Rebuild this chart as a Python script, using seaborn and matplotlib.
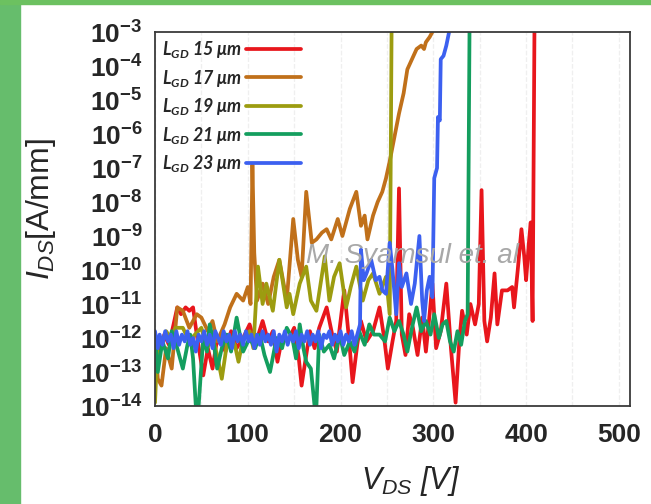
import numpy as np
import pandas as pd
import matplotlib
matplotlib.use("Agg")
import matplotlib.pyplot as plt
from matplotlib.patches import Rectangle
import seaborn as sns

# Breakdown curves: V_DS [V] and log10(I_DS [A/mm])
v_15 = [0, 5, 10, 15, 20, 24, 28, 33, 37, 41, 45, 52, 57, 62, 66, 70, 76, 82, 88, 95,
        102, 108, 116, 122, 127, 132, 137, 143, 150, 155, 158, 163, 167, 172, 177, 185,
        191, 196, 204, 209, 213, 218, 222, 228, 235, 242, 247, 251, 256, 260, 263, 266,
        270, 274, 278, 283, 288, 292, 296, 299, 303, 308, 314, 319, 324, 328, 331, 336,
        340, 345, 349, 352, 355, 358, 362, 366, 369, 374, 380, 385, 387, 391, 395, 398,
        400, 403, 405, 407, 409]
log_15 = [-12.0, -12.4, -11.9, -12.2, -11.6, -11.1, -11.3, -11.1, -11.2, -11.1, -11.9, -13.1,
          -12.3, -12.9, -12.2, -12.0, -12.4, -11.8, -12.3, -12.0, -11.6, -12.2, -11.5, -12.1,
          -11.8, -12.7, -12.0, -12.1, -11.7, -12.6, -13.4, -12.5, -11.8, -12.3, -11.7, -11.1,
          -11.9, -12.4, -10.6, -12.0, -13.3, -12.2, -11.5, -12.1, -11.8, -11.1, -12.0, -12.9,
          -12.1, -11.5, -7.6, -11.9, -12.5, -11.3, -11.7, -12.5, -11.4, -12.4, -11.3, -10.4,
          -12.3, -11.8, -10.4, -12.3, -13.9, -12.1, -11.2, -11.9, -11.0, -11.6, -11.0, -7.65,
          -11.5, -12.1, -11.4, -10.1, -11.6, -10.6, -10.6, -10.5, -11.1, -10.0, -8.8, -9.6,
          -10.3, -9.2, -8.6, -11.5, -3.0]

v_17 = [0, 3, 7, 12, 18, 24, 30, 37, 45, 50, 57, 62, 67, 75, 81, 88, 95, 100, 103, 105,
        107, 110, 116, 122, 128, 134, 142, 149, 154, 158, 163, 169, 174, 180, 185, 190, 197,
        202, 210, 217, 222, 226, 229, 235, 240, 245, 249, 253, 258, 263, 268, 272, 277, 282,
        287, 290, 292, 296, 299]
log_17 = [-12.06, -13.2, -13.4, -12.3, -12.9, -11.1, -11.2, -11.7, -11.3, -11.4, -11.8, -11.5,
          -12.1, -11.6, -11.1, -10.7, -10.9, -10.5, -11.0, -6.9, -9.5, -10.9, -10.4, -11.0,
          -10.2, -9.7, -10.9, -8.5, -9.7, -10.2, -7.7, -9.2, -9.1, -8.9, -8.8, -9.1, -8.5,
          -9.0, -8.2, -7.7, -8.7, -8.4, -9.1, -8.4, -8.0, -7.7, -7.3, -6.8, -6.1, -5.4, -4.8,
          -4.1, -3.8, -3.5, -3.4, -3.5, -3.3, -3.15, -3.0]

v_19 = [0, 3, 8, 12, 17, 22, 30, 37, 43, 50, 56, 62, 67, 72, 79, 86, 90, 95, 102, 106,
        111, 116, 120, 127, 134, 142, 145, 149, 156, 163, 168, 174, 183, 188, 193, 199, 206,
        211, 217, 224, 230, 235, 242, 249, 253, 255]
log_19 = [-13.9, -12.0, -12.1, -11.8, -12.0, -11.7, -11.7, -12.1, -11.9, -11.7, -12.3, -12.0,
          -12.5, -13.2, -11.9, -12.2, -12.7, -12.0, -11.8, -12.3, -9.9, -11.0, -10.4, -11.2,
          -9.7, -11.1, -10.7, -11.3, -10.4, -9.9, -10.9, -11.2, -9.6, -10.9, -10.2, -9.8,
          -11.1, -10.5, -9.9, -10.9, -10.3, -10.1, -10.7, -10.2, -11.3, -3.0]

v_21 = [0, 3, 8, 14, 18, 23, 30, 35, 38, 41, 44, 47, 52, 56, 59, 63, 67, 72, 77, 82, 88,
        95, 102, 108, 113, 118, 124, 131, 137, 142, 148, 152, 156, 160, 163, 168, 172, 174,
        177, 182, 188, 193, 199, 204, 210, 215, 220, 226, 231, 236, 242, 248, 253, 258, 263,
        268, 272, 277, 282, 287, 292, 297, 301, 306, 310, 314, 318, 322, 326, 330, 334, 337,
        339]
log_21 = [-11.9, -13.0, -12.1, -12.6, -11.8, -12.2, -12.9, -12.2, -11.9, -12.6, -14.0, -14.0,
          -12.0, -12.4, -11.6, -12.1, -12.9, -12.3, -11.9, -12.4, -11.4, -12.4, -12.0, -12.3,
          -11.9, -12.5, -13.0, -12.0, -12.3, -11.7, -12.0, -12.6, -11.6, -12.3, -12.7, -12.9,
          -14.0, -14.0, -11.9, -12.4, -12.2, -12.6, -11.9, -12.5, -12.1, -12.4, -11.8, -12.2,
          -11.6, -11.9, -11.9, -12.1, -11.4, -11.8, -11.5, -11.9, -12.4, -11.7, -11.1, -11.8,
          -11.5, -11.9, -11.3, -12.0, -11.6, -11.5, -12.1, -12.4, -11.8, -12.2, -11.5, -11.3,
          -3.0]

v_23 = [0, 3, 5, 8, 11, 14, 17, 20, 23, 26, 29, 32, 35, 38, 41, 44, 47, 50, 53, 56, 59,
        62, 65, 68, 71, 74, 77, 80, 83, 86, 89, 92, 95, 98, 101, 104, 107, 110, 113, 116,
        119, 122, 125, 128, 131, 134, 137, 140, 143, 146, 149, 152, 155, 158, 161, 164, 167,
        170, 173, 176, 179, 182, 185, 188, 191, 194, 197, 200, 203, 206, 209, 212, 215, 218,
        221, 222, 225, 228, 233, 238, 242, 245, 249, 253, 256, 260, 263, 266, 271, 276, 280,
        285, 288, 290, 293, 296, 299, 301, 304, 305, 307, 308, 311, 314, 317]
log_23 = [-11.8, -12.3, -11.9, -12.2, -11.8, -12.1, -11.9, -12.3, -11.8, -12.2, -11.9, -12.1,
          -11.8, -12.2, -12.0, -12.4, -11.9, -12.1, -11.8, -12.2, -11.9, -12.3, -11.8, -12.0,
          -12.2, -11.8, -12.1, -11.9, -12.3, -11.8, -12.1, -11.9, -12.2, -11.8, -12.1, -11.9,
          -12.3, -11.9, -12.2, -11.8, -12.1, -11.9, -12.2, -11.8, -12.4, -11.9, -12.1, -11.8,
          -12.2, -11.9, -12.1, -11.8, -12.3, -11.9, -12.1, -11.8, -12.2, -11.9, -12.1, -11.8,
          -12.3, -11.9, -12.0, -11.8, -12.2, -11.9, -12.1, -11.8, -12.2, -11.9, -12.1, -11.8,
          -12.2, -11.9, -11.6, -9.4, -10.3, -10.1, -9.7, -10.3, -10.2, -10.6, -10.7, -9.2,
          -10.0, -11.3, -9.8, -10.5, -10.1, -11.0, -10.4, -9.0, -10.9, -11.5, -10.6, -10.2,
          -10.8, -7.3, -7.0, -5.5, -5.6, -3.8, -3.7, -3.4, -3.0]

labels = ["15", "17", "19", "21", "23"]
colors = ["#e8161c", "#c0701a", "#9c9c10", "#149e5e", "#3c60f0"]
y_exponents = list(range(-14, -2))

frames = []
for lab, v, lg in zip(labels, [v_15, v_17, v_19, v_21, v_23],
                      [log_15, log_17, log_19, log_21, log_23]):
    frames.append(pd.DataFrame({"vds": v, "ids": np.power(10.0, lg),
                                "lgd": r"$\mathbfit{L_{GD}}$ " + lab + " μm"}))
df = pd.concat(frames, ignore_index=True)

sns.set_style("white")
plt.rcParams["font.family"] = ["Liberation Sans", "DejaVu Sans"]
plt.rcParams["mathtext.fontset"] = "custom"
plt.rcParams["mathtext.rm"] = "Liberation Sans"
plt.rcParams["mathtext.it"] = "Liberation Sans:italic"
plt.rcParams["mathtext.bf"] = "Liberation Sans:bold"
plt.rcParams["mathtext.bfit"] = "Lato:italic:bold"

fig = plt.figure(figsize=(6.51, 5.04), dpi=100)
ax = fig.add_axes([155 / 651, 1 - 406 / 504, 475 / 651, 374 / 504])

# green frame of the slide
fig.patches.append(Rectangle((0, 0), 20 / 651, 1, transform=fig.transFigure,
                             color="#66bd6c", zorder=0))
fig.patches.append(Rectangle((0, 1 - 4 / 504), 1, 4 / 504, transform=fig.transFigure,
                             color="#6cc160", zorder=0))

sns.lineplot(data=df, x="vds", y="ids", hue="lgd", palette=colors, linewidth=2.7,
             estimator=None, sort=False, ax=ax)

ax.set_yscale("log")
ax.set_xlim(0, 512)
ax.set_ylim(1e-14, 1e-3)
ax.set_xticks([0, 100, 200, 300, 400, 500])
ax.set_xticks(np.arange(50, 501, 100), minor=True)
ax.set_xticklabels(["0", "100", "200", "300", "400", "500"], fontsize=19, fontweight="bold")
ax.set_yticks([10.0 ** e for e in y_exponents])
ax.set_yticks([], minor=True)
ax.set_yticklabels([r"$\mathbf{10^{%d}}$" % e for e in y_exponents], fontsize=19)
ax.tick_params(axis="both", length=0, pad=9)
ax.tick_params(axis="x", pad=12)
ax.grid(axis="x", which="both", color="#efefef", linestyle="--", linewidth=0.9)
for sp in ax.spines.values():
    sp.set_color("#3a3a3a")
    sp.set_linewidth(1.3)

ax.set_ylabel(r"$I_{DS}$[A/mm]", fontsize=23)
ax.yaxis.set_label_coords(-0.205, 0.527)
ax.set_xlabel(r"$V_{DS}$ [V]", fontsize=22, fontstyle="italic")
ax.xaxis.set_label_coords(0.539, -0.155)

handles, texts = ax.get_legend_handles_labels()
ax.legend(handles, texts, loc="upper left", bbox_to_anchor=(0.0, 1.0), frameon=False,
          markerfirst=False, handlelength=3.1, handletextpad=0.2, labelspacing=0.42,
          borderpad=0.4, borderaxespad=0.0,
          prop={"family": "Lato", "style": "italic", "weight": "bold", "size": 12.8})

ax.text(0.541, 0.401, "M. Syamsul et. al", transform=ax.transAxes, ha="center",
        va="center", fontsize=20, fontstyle="italic", color="#a8a8a8", zorder=10)

fig.savefig("out.png", dpi=100)
